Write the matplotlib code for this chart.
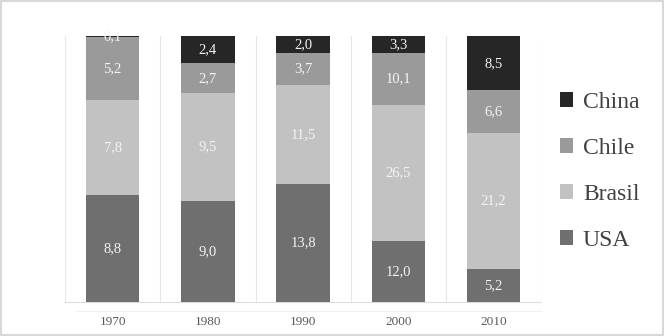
import matplotlib
matplotlib.use("Agg")
import matplotlib.pyplot as plt
import numpy as np
from matplotlib.patches import Patch
from matplotlib.lines import Line2D

years = ["1970", "1980", "1990", "2000", "2010"]
usa = [8.8, 9.0, 13.8, 12.0, 5.2]
brasil = [7.8, 9.5, 11.5, 26.5, 21.2]
chile = [5.2, 2.7, 3.7, 10.1, 6.6]
china = [0.1, 2.4, 2.0, 3.3, 8.5]

series = [("USA", usa, "#6f6f6f"), ("Brasil", brasil, "#c2c2c2"),
          ("Chile", chile, "#9a9a9a"), ("China", china, "#262626")]

plt.rcParams['font.family'] = ['Liberation Serif', 'DejaVu Serif']

fig = plt.figure(figsize=(6.64, 3.36), dpi=100)
fig.patch.set_facecolor("white")
ax = fig.add_axes([0.098, 0.101, 0.717, 0.792])

x = np.arange(len(years))
totals = np.sum([s[1] for s in series], axis=0)
bottom = np.zeros(len(years))
for name, vals, col in series:
    v = np.array(vals)
    frac = v / totals * 100
    ax.bar(x, frac, width=0.56, bottom=bottom, color=col, zorder=3)
    for xi, b, f, val in zip(x, bottom, frac, v):
        ax.text(xi, b + f / 2, f"{val:.1f}".replace(".", ","), ha="center", va="center",
                color="#f4f4f4", fontsize=10.5, zorder=4)
    bottom += frac

ax.set_xlim(-0.5, 4.5)
ax.set_ylim(0, 100)
ax.set_yticks([])
ax.set_xticks(x)
ax.set_xticklabels(years, fontsize=9.5, color="#595959")
ax.tick_params(axis="x", length=0, pad=10)
for xb in np.arange(-0.5, 5, 1):
    ax.axvline(xb, color="#e6e6e6", lw=0.8, zorder=1)
for sp in ["top", "left", "right"]:
    ax.spines[sp].set_visible(False)
ax.spines["bottom"].set_color("#dcdcdc")
ax.spines["bottom"].set_linewidth(0.8)

handles = [Patch(facecolor=col, label=name) for name, vals, col in series[::-1]]
leg = fig.legend(handles=handles, loc="center left", bbox_to_anchor=(0.843, 0.49),
                 frameon=False, fontsize=17, handlelength=0.58, handleheight=0.58,
                 handletextpad=0.4, labelspacing=1.05, labelcolor="#404040",
                 borderpad=0, borderaxespad=0)

# faint separator under the axis and figure border
fig.add_artist(Line2D([0.115, 0.815], [0.075, 0.075], transform=fig.transFigure,
                      color="#f0f0f0", lw=0.8))
fig.add_artist(plt.Rectangle((0.002, 0.003), 0.996, 0.994, transform=fig.transFigure,
                             fill=False, edgecolor="#d9d9d9", lw=1.5))

fig.savefig("out.png", dpi=100)
